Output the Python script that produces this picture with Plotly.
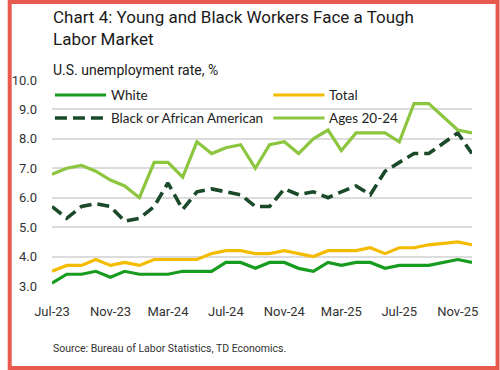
import plotly.graph_objects as go

months = ["2023-07","2023-08","2023-09","2023-10","2023-11","2023-12",
          "2024-01","2024-02","2024-03","2024-04","2024-05","2024-06",
          "2024-07","2024-08","2024-09","2024-10","2024-11","2024-12",
          "2025-01","2025-02","2025-03","2025-04","2025-05","2025-06",
          "2025-07","2025-08","2025-09","2025-11","2025-12"]  # Oct-25 not published

white = [3.1,3.4,3.4,3.5,3.3,3.5, 3.4,3.4,3.4,3.5,3.5,3.5, 3.8,3.8,3.6,3.8,3.8,3.6,
         3.5,3.8,3.7,3.8,3.8,3.6, 3.7,3.7,3.7,3.9,3.8]
total = [3.5,3.7,3.7,3.9,3.7,3.8, 3.7,3.9,3.9,3.9,3.9,4.1, 4.2,4.2,4.1,4.1,4.2,4.1,
         4.0,4.2,4.2,4.2,4.3,4.1, 4.3,4.3,4.4,4.5,4.4]
black = [5.7,5.3,5.7,5.8,5.7,5.2, 5.3,5.7,6.5,5.6,6.2,6.3, 6.2,6.1,5.7,5.7,6.3,6.1,
         6.2,6.0,6.2,6.4,6.1,6.9, 7.2,7.5,7.5,8.2,7.5]
ages = [6.8,7.0,7.1,6.9,6.6,6.4, 6.0,7.2,7.2,6.7,7.9,7.5, 7.7,7.8,7.0,7.8,7.9,7.5,
        8.0,8.3,7.6,8.2,8.2,8.2, 7.9,9.2,9.2,8.3,8.2]

tick_vals = ["2023-07-01","2023-11-01","2024-03-01","2024-07-01",
             "2024-11-01","2025-03-01","2025-07-01","2025-11-01"]
tick_text = ["Jul-23","Nov-23","Mar-24","Jul-24","Nov-24","Mar-25","Jul-25","Nov-25"]
y_ticks = [3.0,4.0,5.0,6.0,7.0,8.0,9.0,10.0]

W, H = 500, 370
L, R, T, B = 45, 28, 80, 84
PW, PH = W - L - R, H - T - B

def px(x):
    return (x - L) / PW

def py(y):
    return (H - B - y) / PH

FONT = "Roboto"
LEG_FONT = "Lato"
DASH = "12px,6px"
fig = go.Figure()
series = [
    ("White", white, "#189C1F", "solid", 3.2),
    ("Total", total, "#F4BC00", "solid", 3.2),
    ("Black or African American", black, "#1B4A2A", DASH, 3.6),
    ("Ages 20-24", ages, "#8CC63F", "solid", 3.2),
]
dates = [m + "-01" for m in months]
for name, vals, col, dash, lw in series:
    fig.add_trace(go.Scatter(x=dates, y=vals, name=name, mode="lines",
                             line=dict(color=col, width=lw, dash=dash),
                             showlegend=False))

# legend (two columns)
leg_pos = [(48, 95), (270, 95), (48, 118), (270, 118)]
for (name, vals, col, dash, lw), (lx, ly) in zip(series, leg_pos):
    fig.add_shape(type="line", xref="paper", yref="paper",
                  x0=px(lx), x1=px(lx + 52), y0=py(ly), y1=py(ly),
                  line=dict(color=col, width=lw, dash=dash))
    fig.add_annotation(x=px(lx + 55), y=py(ly), xref="paper", yref="paper",
                       xanchor="left", yanchor="middle", showarrow=False,
                       text=name, font=dict(family=LEG_FONT, size=13.5, color="#222222"))

fig.update_layout(
    width=W, height=H,
    margin=dict(l=L, r=R, t=T, b=B),
    paper_bgcolor="white", plot_bgcolor="white",
    font=dict(family=FONT, color="#333333", size=13),
    showlegend=False,
    xaxis=dict(type="date", range=["2023-07-01","2025-12-01"],
               tickvals=tick_vals, ticktext=tick_text, showgrid=False,
               showline=False, zeroline=False, ticks="", ticklabelstandoff=16,
               tickfont=dict(size=13, color="#333333")),
    yaxis=dict(range=[3.0,10.0], tickvals=y_ticks, ticktext=[f"{v:.1f}" for v in y_ticks],
               showgrid=True, gridcolor="#DCDCDC", gridwidth=1.5, zeroline=False,
               showline=False, ticks="", ticklabelstandoff=14,
               tickfont=dict(size=13, color="#333333")),
)

fig.add_annotation(x=px(44), y=py(5), xref="paper", yref="paper",
                   xanchor="left", yanchor="top", align="left", showarrow=False,
                   text="Chart 4: Young and Black Workers Face a Tough<br>Labor Market",
                   font=dict(family=FONT, size=17, color="#1a1a1a"))
fig.add_annotation(x=px(44), y=py(70), xref="paper", yref="paper",
                   xanchor="left", yanchor="middle", showarrow=False,
                   text="U.S. unemployment rate, %",
                   font=dict(family=FONT, size=14, color="#1a1a1a"))
fig.add_annotation(x=px(44), y=py(348), xref="paper", yref="paper",
                   xanchor="left", yanchor="middle", showarrow=False,
                   text="Source: Bureau of Labor Statistics, TD Economics.",
                   font=dict(family=FONT, size=10.5, color="#333333"))

fig.add_shape(type="rect", xref="paper", yref="paper",
              x0=px(2), x1=px(498), y0=py(368), y1=py(2),
              line=dict(color="#E8594F", width=4), fillcolor="rgba(0,0,0,0)", layer="above")

fig.write_html("out.html", config={"displayModeBar": False},
               post_script="document.body.style.margin='0px';document.body.style.overflow='hidden';")
